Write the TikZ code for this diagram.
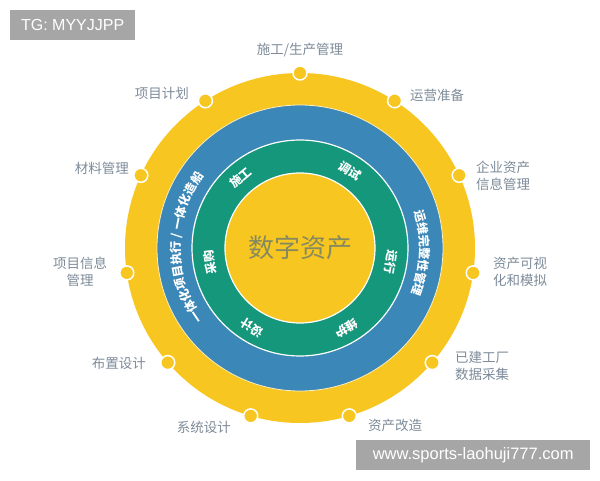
\documentclass[tikz,border=0pt]{standalone}
\usepackage{fontspec}
\setmainfont{Liberation Sans}
\newfontfamily\cjk{Noto Sans CJK SC}
\usetikzlibrary{calc,decorations.text}
\definecolor{ringyellow}{HTML}{F8C620}
\definecolor{ringblue}{HTML}{3A87B8}
\definecolor{ringgreen}{HTML}{14977A}
\definecolor{labelgray}{HTML}{7D8B99}
\definecolor{centertext}{HTML}{868A5E}
\definecolor{wmgray}{HTML}{A6A6A6}
\begin{document}
\begin{tikzpicture}[x=1pt,y=1pt,
  outerlabel/.style={font=\cjk\fontsize{13.5}{17}\selectfont, text=labelgray, inner sep=0pt},
  ringlabel/.style={font=\cjk\bfseries\fontsize{12}{12}\selectfont, text=white, inner sep=0pt},
  dotmark/.style={circle, fill=ringyellow, draw=white, line width=1.5pt, minimum size=14pt, inner sep=0pt},
  watermark/.style={fill=wmgray, text=white, font=\fontsize{16}{16}\selectfont, inner sep=0pt, minimum height=30pt},
]
\useasboundingbox (0,0) rectangle (600,480);
\coordinate (c) at (300,232);
% rings
\fill[ringyellow] (c) circle (175);
\fill[ringblue] (c) circle (143);
\draw[white!70!ringyellow, line width=0.8pt] (c) circle (143);
\fill[ringgreen] (c) circle (108);
\draw[white, line width=1.2pt] (c) circle (108);
\fill[ringyellow] (c) circle (75);
\draw[white, line width=1.2pt] (c) circle (75);
% dots on the outer ring
\foreach \i in {0,...,10}
  \node[dotmark] (d\i) at ($(c)+({90-\i*360/11}:175)$) {};
% centre text
\node[font=\cjk\fontsize{26}{26}\selectfont, text=centertext] (centre) at (c) {数字资产};
% green ring labels
\node[ringlabel, rotate=40] (g1) at ($(c)+(130:92)$) {施工};
\node[ringlabel, rotate=-33] (g2) at ($(c)+(57:92)$) {调试};
\node[ringlabel, rotate=-99] (g3) at ($(c)+(-9:92)$) {运行};
\node[ringlabel, rotate=-150] (g4) at ($(c)+(-60:93)$) {维护};
\node[ringlabel, rotate=149] (g5) at ($(c)+(-121:93)$) {设计};
\node[ringlabel, rotate=99] (g6) at ($(c)+(189:91)$) {采购};
% blue ring curved labels
\path[decorate, decoration={text along path, text color=white, text align=center,
  text={|\cjk\bfseries\fontsize{12}{12}\selectfont|一体化项目执行 / 一体化造船}}]
  ($(c)+(222:120)$) arc[start angle=222, end angle=138, radius=120];
\path[decorate, decoration={text along path, text color=white, text align=center,
  text={|\cjk\bfseries\fontsize{12}{12}\selectfont|运维完整性管理}}]
  ($(c)+(20:120)$) arc[start angle=20, end angle=-25, radius=120];
% outer labels
\node[outerlabel] (l0) at (300,430) {施工/生产管理};
\node[outerlabel, anchor=west] (l1) at (410,385) {运营准备};
\node[outerlabel, anchor=west, align=left] (l2) at (476,304) {企业资产\\信息管理};
\node[outerlabel, anchor=west, align=left] (l3) at (493,208) {资产可视\\化和模拟};
\node[outerlabel, anchor=west, align=left] (l4) at (455,114) {已建工厂\\数据采集};
\node[outerlabel, anchor=west] (l5) at (368,55) {资产改造};
\node[outerlabel, anchor=east] (l6) at (231,53) {系统设计};
\node[outerlabel, anchor=east] (l7) at (146,117) {布置设计};
\node[outerlabel, align=center] (l8) at (80,208) {项目信息\\管理};
\node[outerlabel, anchor=east] (l9) at (129,312) {材料管理};
\node[outerlabel, anchor=east] (l10) at (189,387) {项目计划};
% watermarks
\node[watermark, anchor=north west, minimum width=125pt] (wm1) at (10,470) {TG: MYYJJPP};
\node[watermark, anchor=north west, minimum width=234pt, font=\fontsize{16.5}{16.5}\selectfont] (wm2) at (356,40) {www.sports-laohuji777.com};
\end{tikzpicture}
\end{document}
